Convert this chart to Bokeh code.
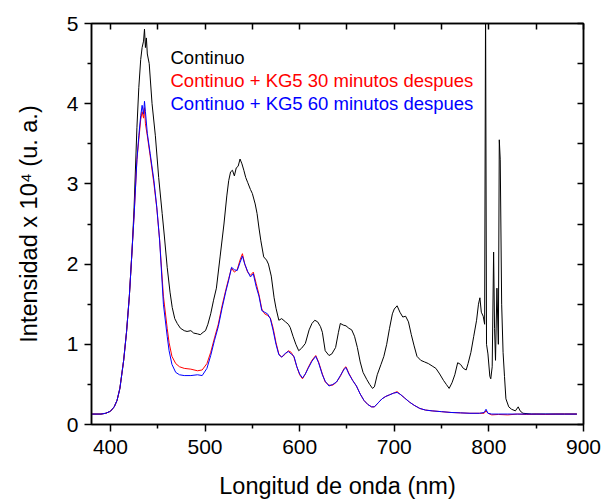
from bokeh.plotting import figure
from bokeh.models import Range1d, LinearAxis, FixedTicker, Label
from bokeh.embed import file_html
from bokeh.resources import INLINE

# ---- data (intensity in units of 10^4 a.u.) ----
wl_continuo = [380, 390, 395, 400, 404, 407, 410, 414, 417, 420, 423, 425, 428, 430, 432, 433.5,
               435, 436, 437, 438, 439, 441, 444, 447.5, 451, 454.7, 457, 460, 463, 465.3, 468,
               470.6, 474, 478, 481, 485, 488, 492, 495, 498, 500.5, 503, 506, 509, 512, 516,
               520, 523, 525, 527, 529, 531, 533, 535, 537, 539, 541, 543, 545, 548, 550, 553,
               555, 557, 559, 562, 565, 567, 570, 573, 575, 578, 581, 585, 588, 590, 593, 596,
               599, 602, 606, 610, 613, 616, 619, 622, 624, 627, 631, 634, 638, 641, 643, 646,
               649, 652, 655, 658, 661, 664, 667, 671, 674, 677, 679, 682, 686, 689, 692, 695,
               698, 700, 703, 706, 709, 712, 715, 718, 721, 724, 728, 732, 736, 740, 744, 748,
               752, 755, 758, 761, 764, 767, 770, 773, 776, 778, 781, 784, 787, 789, 790.5, 792,
               794, 795.5, 796.5, 797.5, 799, 801, 802, 803.5, 805, 806, 807, 808.5, 810, 811,
               812, 813.5, 815, 816.5, 818, 821, 824, 828, 831, 833, 836, 845, 860, 880, 893]
int_continuo = [0.13, 0.13, 0.14, 0.165, 0.22, 0.30, 0.45, 0.80, 1.15, 1.60, 2.20, 2.70, 3.70, 4.20, 4.55, 4.70,
                4.78, 4.93, 4.70, 4.82, 4.62, 4.50, 4.00, 3.60, 3.08, 2.63, 2.35, 1.96, 1.65, 1.46, 1.32,
                1.26, 1.20, 1.17, 1.16, 1.17, 1.14, 1.13, 1.12, 1.15, 1.17, 1.25, 1.38, 1.55, 1.70, 2.10,
                2.50, 2.85, 3.04, 3.15, 3.17, 3.10, 3.20, 3.22, 3.31, 3.25, 3.17, 3.08, 3.02, 2.93, 2.88, 2.75,
                2.63, 2.45, 2.29, 2.09, 2.05, 2.00, 1.85, 1.58, 1.45, 1.30, 1.32, 1.28, 1.25, 1.21, 1.10, 1.00,
                0.92, 0.95, 1.01, 1.18, 1.26, 1.30, 1.28, 1.22, 1.15, 0.92, 0.86, 0.88, 0.96, 1.15, 1.26, 1.24,
                1.23, 1.20, 1.18, 1.10, 0.96, 0.78, 0.65, 0.56, 0.50, 0.45, 0.47, 0.62, 0.75, 0.85, 1.00, 1.20,
                1.38, 1.44, 1.48, 1.40, 1.34, 1.35, 1.28, 1.12, 0.98, 0.85, 0.80, 0.78, 0.76, 0.73, 0.70, 0.63,
                0.55, 0.50, 0.45, 0.52, 0.62, 0.77, 0.75, 0.70, 0.68, 0.76, 0.90, 1.10, 1.30, 1.50, 1.58, 1.40,
                1.35, 1.25, 5.30, 1.00, 0.88, 0.60, 0.57, 0.72, 2.15, 1.20, 0.80, 1.70, 1.00, 3.55,
                3.30, 1.50, 0.90, 0.60, 0.32, 0.22, 0.19, 0.17, 0.22, 0.17, 0.14, 0.13, 0.13, 0.13, 0.13]

wl_kg5 = [380, 390, 395, 400, 404, 407, 410, 414, 417, 420, 423, 425, 428, 430, 432, 433.5, 435, 436,
          437, 439, 442, 446, 449, 452, 456, 460, 462, 465, 469, 473, 478, 485, 492, 497, 502, 506,
          510, 514, 518, 522, 525, 528, 531, 534, 537, 539.5, 542, 545, 548, 551, 554, 557, 560, 563,
          566, 569, 572, 575, 578, 581, 585, 588, 591, 594, 597, 600, 603, 606, 609, 613, 617, 620,
          624, 627, 631, 635, 639, 643, 647, 649, 652, 656, 660, 664, 668, 672, 676, 679, 683, 687,
          691, 695, 699, 703, 707, 711, 716, 721, 727, 733, 740, 750, 760, 770, 780, 790, 795, 797,
          799, 803, 810, 820, 830, 840, 850, 860, 870, 880, 893]
int_kg5_30min = [0.13, 0.13, 0.14, 0.165, 0.22, 0.30, 0.45, 0.80, 1.15, 1.60, 2.20, 2.60, 3.30, 3.55, 3.80, 3.90, 3.82, 3.95,
                 3.75, 3.60, 3.35, 3.00, 2.70, 2.30, 1.60, 1.20, 1.02, 0.85, 0.76, 0.72, 0.70, 0.69, 0.67, 0.68, 0.76, 0.90,
                 1.08, 1.25, 1.48, 1.68, 1.82, 1.95, 1.90, 1.93, 2.05, 2.13, 2.00, 1.90, 1.86, 1.90, 1.76, 1.62, 1.44, 1.38,
                 1.36, 1.33, 1.20, 1.02, 0.88, 0.84, 0.88, 0.92, 0.90, 0.84, 0.72, 0.62, 0.57, 0.63, 0.71, 0.80, 0.86, 0.78,
                 0.63, 0.53, 0.49, 0.49, 0.53, 0.60, 0.70, 0.72, 0.64, 0.55, 0.48, 0.38, 0.30, 0.25, 0.22, 0.22, 0.27, 0.32,
                 0.35, 0.37, 0.39, 0.41, 0.37, 0.33, 0.28, 0.24, 0.20, 0.18, 0.17, 0.16, 0.15, 0.145, 0.14, 0.14, 0.14, 0.17,
                 0.14, 0.12, 0.125, 0.12, 0.13, 0.125, 0.13, 0.125, 0.13, 0.13, 0.13]
int_kg5_60min = [0.13, 0.13, 0.14, 0.165, 0.22, 0.30, 0.45, 0.80, 1.15, 1.60, 2.20, 2.60, 3.30, 3.60, 3.85, 3.98, 3.87, 4.03,
                 3.90, 3.63, 3.38, 3.04, 2.71, 2.30, 1.50, 1.10, 0.92, 0.75, 0.65, 0.62, 0.61, 0.61, 0.62, 0.61, 0.70, 0.86,
                 1.05, 1.22, 1.45, 1.66, 1.80, 1.96, 1.93, 1.92, 2.02, 2.10, 2.00, 1.91, 1.84, 1.88, 1.72, 1.60, 1.42, 1.40,
                 1.38, 1.32, 1.17, 1.00, 0.87, 0.84, 0.89, 0.91, 0.88, 0.85, 0.72, 0.63, 0.58, 0.63, 0.70, 0.79, 0.85, 0.77,
                 0.62, 0.54, 0.48, 0.50, 0.53, 0.61, 0.69, 0.71, 0.63, 0.55, 0.48, 0.38, 0.30, 0.25, 0.22, 0.22, 0.27, 0.32,
                 0.35, 0.37, 0.39, 0.40, 0.37, 0.33, 0.28, 0.24, 0.20, 0.18, 0.17, 0.16, 0.15, 0.145, 0.14, 0.14, 0.15, 0.19,
                 0.14, 0.13, 0.13, 0.13, 0.13, 0.13, 0.13, 0.13, 0.13, 0.13, 0.13]

x_major = [400, 500, 600, 700, 800, 900]
x_minor = [450, 550, 650, 750, 850]
y_major = [0, 1, 2, 3, 4, 5]
y_minor = [0.5, 1.5, 2.5, 3.5, 4.5]
series_names = ["Continuo", "Continuo + KG5 30 minutos despues", "Continuo + KG5 60 minutos despues"]
series_colors = ["#000000", "#ff0000", "#0000ff"]

FONT = "Liberation Sans"

p = figure(width=604, height=504, output_backend="svg", toolbar_location=None,
           x_range=Range1d(380, 900), y_range=Range1d(0, 5),
           min_border_left=91, min_border_right=21, min_border_top=23, min_border_bottom=80)
p.background_fill_color = "white"
p.border_fill_color = "white"
p.outline_line_color = "black"
p.outline_line_width = 1.5
p.xgrid.visible = False
p.ygrid.visible = False

p.line(wl_continuo, int_continuo, line_color=series_colors[0], line_width=1)
p.line(wl_kg5, int_kg5_30min, line_color=series_colors[1], line_width=1)
p.line(wl_kg5, int_kg5_60min, line_color=series_colors[2], line_width=1)

xt = FixedTicker(ticks=x_major, minor_ticks=x_minor)
yt = FixedTicker(ticks=y_major, minor_ticks=y_minor)
# mirrored axes: all ticks as minor ticks, no major ticks -> no label texts
xt_mirror = FixedTicker(ticks=[], minor_ticks=x_major + x_minor)
yt_mirror = FixedTicker(ticks=[], minor_ticks=y_major + y_minor)

def style(ax, inward, labels):
    ax.axis_line_color = "black"
    ax.axis_line_width = 1.5
    ax.major_tick_line_width = 1.5
    ax.minor_tick_line_width = 1.5
    ax.major_tick_line_color = "black"
    ax.minor_tick_line_color = "black"
    if inward:
        ax.major_tick_in, ax.major_tick_out = 8, 0
        ax.minor_tick_in, ax.minor_tick_out = 6, 0
    else:
        ax.major_tick_in, ax.major_tick_out = 0, 7
        ax.minor_tick_in, ax.minor_tick_out = 0, 4
    if labels:
        ax.major_label_text_font = FONT
        ax.major_label_text_font_size = "21px"
        ax.major_label_text_color = "black"
        ax.major_label_standoff = 8
        ax.axis_label_text_font = FONT
        ax.axis_label_text_font_size = "23.5px"
        ax.axis_label_text_font_style = "normal"
        ax.axis_label_text_color = "black"

xa = p.xaxis[0]
xa.ticker = xt
xa.axis_label = "Longitud de onda (nm)"
xa.axis_label_standoff = 16
style(xa, False, True)

ya = p.yaxis[0]
ya.ticker = yt
ya.axis_label = "Intensidad x 10\u2074 (u. a.)"
ya.axis_label_standoff = 22
style(ya, False, True)
ya.major_label_standoff = 6

top = LinearAxis(ticker=xt_mirror)
style(top, True, False)
p.add_layout(top, "above")
right = LinearAxis(ticker=yt_mirror)
style(right, True, False)
p.add_layout(right, "right")

for i, (name, col) in enumerate(zip(series_names, series_colors)):
    p.add_layout(Label(x=79, y=367 - 23 * i, x_units="screen", y_units="screen", text=name,
                       text_color=col, text_font=FONT, text_font_size="18.5px",
                       text_baseline="alphabetic", text_align="left"))

open("out.html", "w").write(file_html(p, INLINE))
